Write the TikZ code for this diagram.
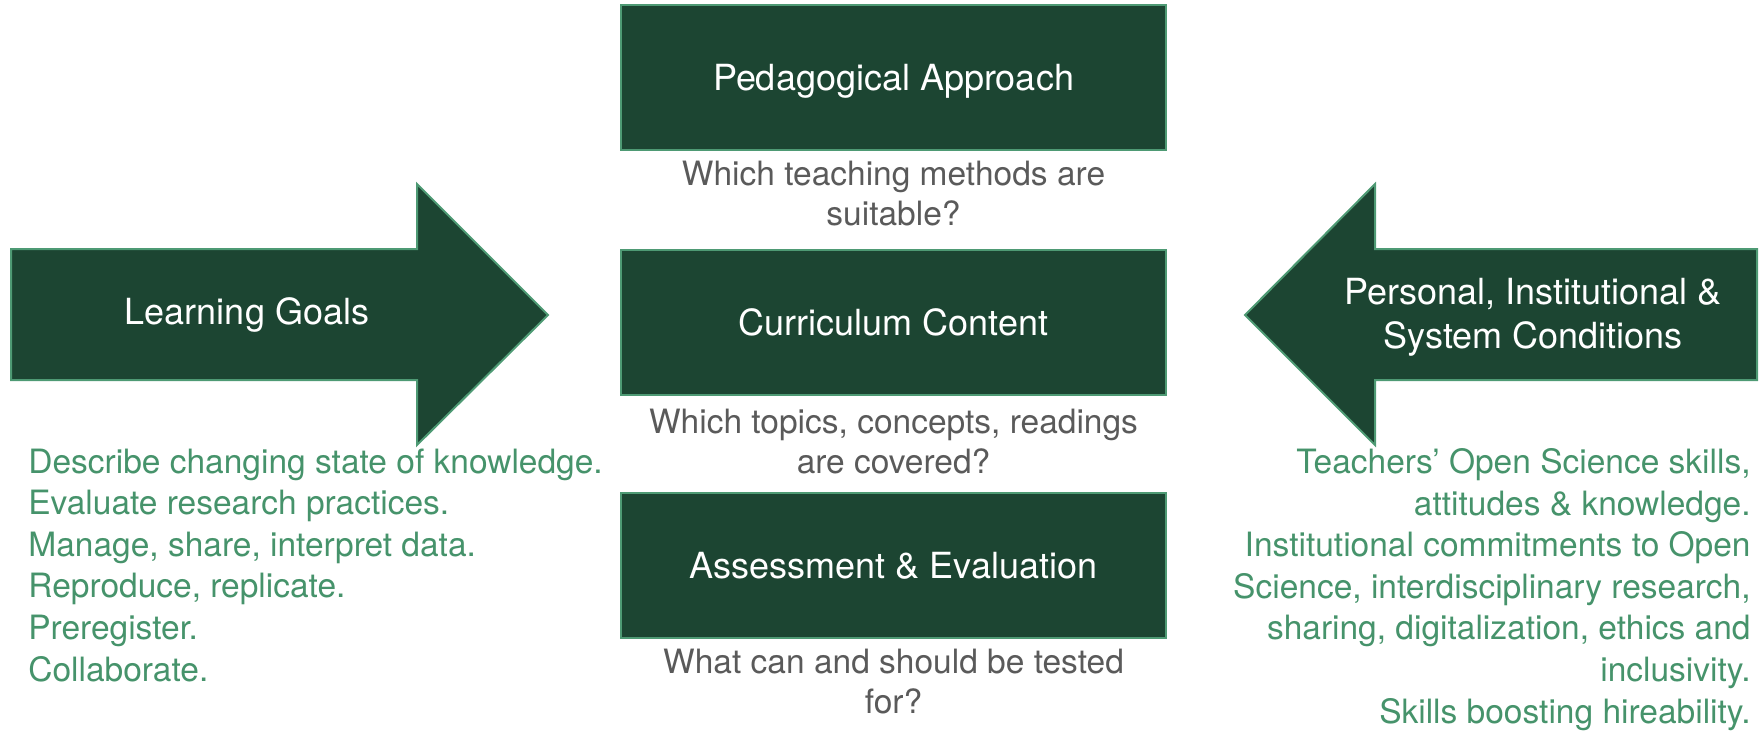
\documentclass[tikz,border=0pt]{standalone}
\usepackage{fontspec}
\setmainfont{TeX Gyre Heros}

\definecolor{boxgreen}{HTML}{1C4532}
\definecolor{edgegreen}{HTML}{4E9A74}
\definecolor{listgreen}{HTML}{46936B}
\definecolor{askgray}{HTML}{5A5A5A}

\tikzset{
  block/.style={draw=edgegreen, fill=boxgreen, line width=1pt,
    minimum width=272.5pt, minimum height=72.5pt, text=white,
    text height=13pt, text depth=0pt,
    font=\fontsize{18}{22}\selectfont},
  bigarrow/.style={draw=edgegreen, fill=boxgreen, line width=1pt, line join=miter},
  arrowtext/.style={text=white, align=center, font=\fontsize{18}{22}\selectfont},
  % base of a multi-line node sits on its last line
  ask/.style={text=askgray, align=center, anchor=base,
    font=\fontsize{16.75}{20}\selectfont},
  goal/.style={text=listgreen, inner sep=0pt, font=\fontsize{16.75}{20.8}\selectfont},
}

\begin{document}
\begin{tikzpicture}[x=0.5pt,y=-0.5pt]
  \useasboundingbox (0,0) rectangle (1764,730);

  % centre column
  \node[block] (approach) at (893.5,77) {Pedagogical Approach};
  \node[block] (content) at (893.5,322.5) {Curriculum Content};
  \node[block] (assess) at (893.5,565.5) {Assessment \& Evaluation};

  \node[ask] (approachq) at (893.5,225) {Which teaching methods are\\suitable?};
  \node[ask] (contentq) at (893.5,473) {Which topics, concepts, readings\\are covered?};
  \node[ask] (assessq) at (893.5,713) {What can and should be tested\\for?};

  % side arrows
  \filldraw[bigarrow] (11,249) -- (417,249) -- (417,184) -- (548,315)
    -- (417,445) -- (417,380) -- (11,380) -- cycle;
  \filldraw[bigarrow] (1757,249) -- (1375,249) -- (1375,184) -- (1245,315)
    -- (1375,445) -- (1375,380) -- (1757,380) -- cycle;

  \node[arrowtext] (goals) at (247,315) {Learning Goals};
  \node[arrowtext] (conditions) at (1533,317) {Personal, Institutional \&\\System Conditions};

  % lists under the arrows
  \node[goal, align=left, anchor=base west] (goallist) at (28,681)
    {Describe changing state of knowledge.\\Evaluate research practices.\\
     Manage, share, interpret data.\\Reproduce, replicate.\\Preregister.\\Collaborate.};
  \node[goal, align=right, anchor=base east] (condlist) at (1751,723)
    {Teachers’ Open Science skills,\\attitudes \& knowledge.\\
     Institutional commitments to Open\\Science, interdisciplinary research,\\
     sharing, digitalization, ethics and\\inclusivity.\\Skills boosting hireability.};
\end{tikzpicture}
\end{document}
